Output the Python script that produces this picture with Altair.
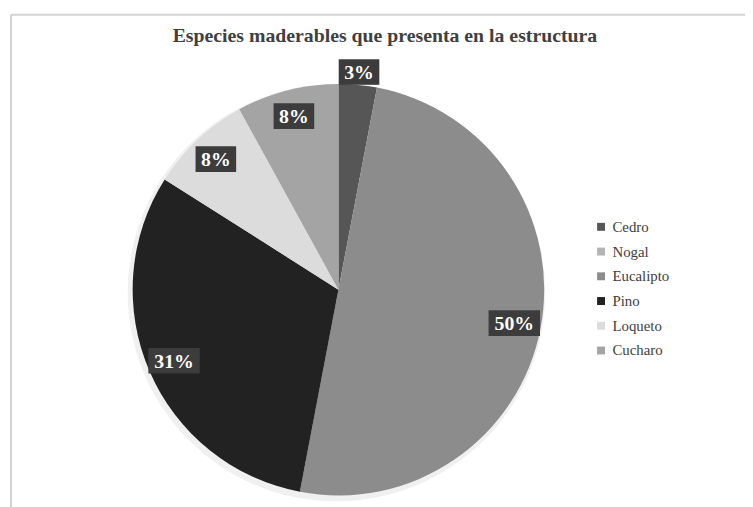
import altair as alt
import pandas as pd

# ---- data ----
title_text = "Especies maderables que presenta en la estructura"
species = ["Cedro", "Nogal", "Eucalipto", "Pino", "Loqueto", "Cucharo"]
percent = [3, 0, 50, 31, 8, 8]
colors = ["#565656", "#b4b4b4", "#8c8c8c", "#222222", "#dcdcdc", "#a4a4a4"]

df = pd.DataFrame({"especie": species, "pct": percent, "idx": list(range(len(species)))})

SERIF = "Liberation Serif"
CX, CY, R = 334, 242, 208

base = alt.Chart(df)

theta = alt.Theta("pct:Q", stack=True)
order = alt.Order("idx:Q")

shadow = base.mark_arc(outerRadius=R + 3, color="#000000", opacity=0.06).encode(
    theta=theta, order=order, x=alt.value(CX - 2), y=alt.value(CY + 3)
)

pie = base.mark_arc(outerRadius=R).encode(
    theta=theta,
    order=order,
    x=alt.value(CX),
    y=alt.value(CY),
    color=alt.Color(
        "especie:N",
        scale=alt.Scale(domain=species, range=colors),
        sort=species,
        legend=alt.Legend(
            orient="none",
            legendX=592,
            legendY=171,
            title=None,
            symbolType="square",
            symbolSize=64,
            symbolStrokeWidth=0,
            labelFont=SERIF,
            labelFontSize=15,
            labelColor="#404040",
            rowPadding=9,
            padding=0,
            labelOffset=4,
        ),
    ),
)

lab = (
    base.transform_filter("datum.pct > 0")
    .transform_joinaggregate(total="sum(pct)")
    .transform_window(cum="sum(pct)", sort=[alt.SortField("idx")], frame=[None, 0])
    .transform_calculate(
        ang="2*PI*(datum.cum - datum.pct/2)/datum.total",
        lr="datum.pct < 5 ? 221 : 181",
        lx=f"{CX} + datum.lr*sin(datum.ang)",
        ly=f"{CY} - datum.lr*cos(datum.ang)",
        hw="datum.pct >= 10 ? 26 : 20.5",
        bx1="datum.lx - datum.hw",
        bx2="datum.lx + datum.hw",
        by1="datum.ly - 13",
        by2="datum.ly + 13",
        txt="datum.pct + '%'",
    )
)

box_shadow = lab.mark_rect(color="#000000", opacity=0.25).encode(
    x=alt.X("bx1:Q", scale=None, axis=None),
    x2="bx2:Q",
    y=alt.Y("by1:Q", scale=None, axis=None),
    y2="by2:Q",
    xOffset=alt.value(2),
    yOffset=alt.value(2),
)

box = lab.mark_rect(color="#3c3c3c").encode(
    x=alt.X("bx1:Q", scale=None, axis=None),
    x2="bx2:Q",
    y=alt.Y("by1:Q", scale=None, axis=None),
    y2="by2:Q",
)

txt = lab.mark_text(
    font=SERIF, fontSize=20, fontWeight="bold", color="white",
    align="center", baseline="middle", dy=1,
).encode(
    x=alt.X("lx:Q", scale=None, axis=None),
    y=alt.Y("ly:Q", scale=None, axis=None),
    text="txt:N",
)

one = pd.DataFrame({"t": [title_text]})
border_left = alt.Chart(one).mark_rule(color="#d3d3d3", strokeWidth=2).encode(
    x=alt.value(3), y=alt.value(-36), y2=alt.value(470)
)
border_top = alt.Chart(one).mark_rule(color="#d3d3d3", strokeWidth=2).encode(
    x=alt.value(3), x2=alt.value(760), y=alt.value(-36)
)
title = alt.Chart(one).mark_text(
    font=SERIF, fontSize=20, fontWeight="bold", color="#404040",
    align="center", baseline="alphabetic",
).encode(x=alt.value(381), y=alt.value(-8), text="t:N")

chart = (
    alt.layer(border_left, border_top, title, shadow, pie, box_shadow, box, txt)
    .properties(
        width=745,
        height=459,
        autosize=alt.AutoSizeParams(type="none"),
        padding={"left": 0, "top": 40, "right": 0, "bottom": 0},
        background="white",
    )
    .configure_view(stroke=None)
)

chart.save("out.html", embed_options={"renderer": "svg", "actions": False})
